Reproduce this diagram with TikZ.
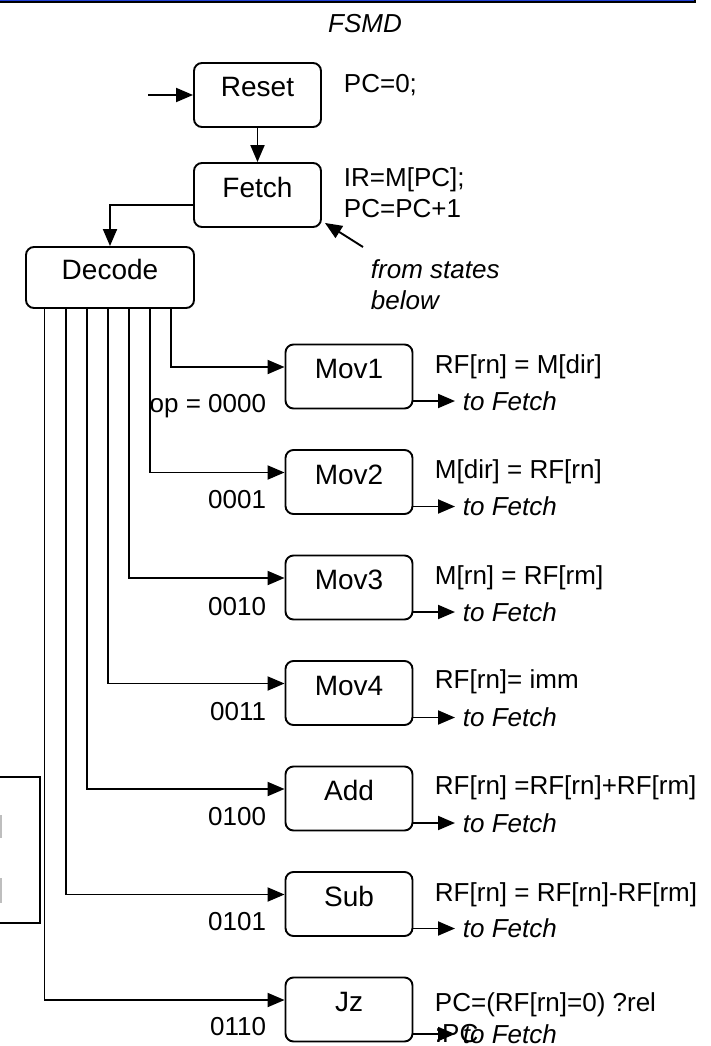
\documentclass[tikz,border=0pt]{standalone}
\usepackage{fontspec}
\setmainfont{Liberation Sans}
\usetikzlibrary{arrows.meta}
\definecolor{BarBlue}{RGB}{32,64,214}
\definecolor{MarkGray}{RGB}{190,190,190}

\begin{document}
\begin{tikzpicture}[
    x=1pt, y=-1pt,
    line width=1.9pt,
    state/.style={draw, rounded corners=8pt, inner sep=0pt, minimum width=127pt, minimum height=64pt,
        font=\fontsize{28}{30}\selectfont, text height=20pt, text depth=16pt},
    txt/.style={font=\fontsize{26}{31}\selectfont, inner sep=0pt, align=left},
    itl/.style={font=\fontsize{26}{31}\selectfont\itshape, inner sep=0pt, align=left},
    arr/.style={-{Triangle[length=17pt, width=14pt]}},
]

% ===== marco =====
\useasboundingbox (0,0) rectangle (711,1046);
\fill[BarBlue] (0,-6) rectangle (695,1.3);
\draw[line width=2pt] (0,2.3) -- (695,2.3) -- (695,-6);
\draw (-6,777) -- (40,777) -- (40,923) -- (-6,923);
\fill[MarkGray] (0,815) rectangle (1.5,838);
\fill[MarkGray] (0,878) rectangle (1.5,903);

\node[itl] (title) at (365,24) {FSMD};

% ===== Reset / Fetch / Decode =====
\node[state] (reset) at (257.5,95) {Reset};
\node[state] (fetch) at (257.5,195) {Fetch};
\node[state, minimum width=168pt, minimum height=61pt] (decode) at (110,277.5) {Decode};

\coordinate (start) at (148,95);
\draw[arr] (start) -- (reset);
\draw[arr] (reset) -- (fetch);
\draw[arr] ([yshift=-10pt]fetch.west) -| (decode);

% base = ultima linea
\node[txt, anchor=base west] (resetact) at (343,93) {PC=0;};
\node[txt, anchor=base west] (fetchact) at (343,217) {IR=M[PC];\\PC=PC+1};

\node[itl, anchor=base west] (from) at (370,309) {from states\\below};
\coordinate (fromtail) at (363,247);
\draw[arr] (fromtail) -- ([xshift=3pt,yshift=5pt]fetch.south east);

% ===== estados de instruccion =====
\foreach \name/\lab/\i/\code/\cdy/\act/\ady in {
    mov1/Mov1/0/{op = 0000}/61/{RF[rn] = M[dir]}/28,
    mov2/Mov2/1/0001/49/{M[dir] = RF[rn]}/28,
    mov3/Mov3/2/0010/51/{M[rn] = RF[rm]}/28,
    mov4/Mov4/3/0011/50/{RF[rn]= imm}/27,
    add/Add/4/0100/50/{RF[rn] =RF[rn]+RF[rm]}/27,
    sub/Sub/5/0101/49/{RF[rn] = RF[rn]-RF[rm]}/29,
    jz/Jz/6/0110/49/{PC=(RF[rn]=0) ?rel\\:PC}/64}
{
    \pgfmathsetmacro\ytop{345+105.5*\i}
    \pgfmathsetmacro\dx{146-21.1*\i}
    \node[state] (\name) at (349,\ytop+31.5) {\lab};
    \draw[arr] ([xshift=\dx pt]decode.south west) |- ([yshift=9.5pt]\name.west);
    \node[txt, anchor=east] (\name-code) at (267,\ytop+\cdy) {\code};
    \node[txt, anchor=base west] (\name-act) at (434,\ytop+\ady) {\act};
    \node[itl, anchor=west, inner xsep=7pt] (\name-to) at (455,\ytop+56) {to Fetch};
    \draw[arr] (\name.east |- \name-to.west) -- (\name-to.west);
}

\end{tikzpicture}
\end{document}
